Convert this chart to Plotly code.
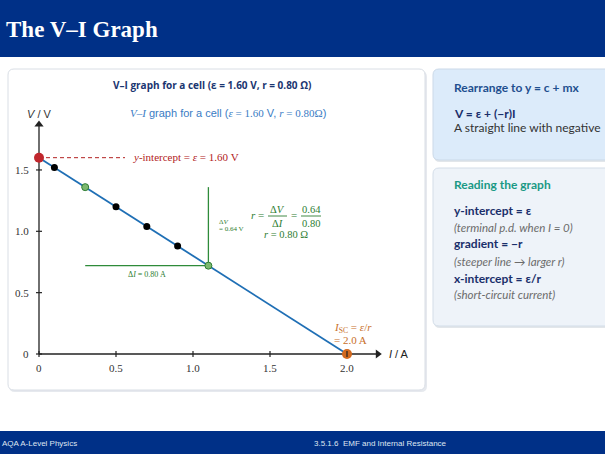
import plotly.graph_objects as go

# ---------------- data ----------------
emf = 1.60
r_int = 0.80
line_I = [0.0, 2.0]
line_V = [1.60, 0.0]
black_I = [0.1, 0.5, 0.7, 0.9]
black_V = [1.52, 1.20, 1.04, 0.88]
green_I = [0.3, 1.1]
green_V = [1.36, 0.72]
yint_I = [0.0]
yint_V = [1.60]
xint_I = [2.0]
xint_V = [0.0]
x_ticks = [0, 0.5, 1.0, 1.5, 2.0]
x_tick_labels = ["0", "0.5", "1.0", "1.5", "2.0"]
y_ticks = [0, 0.5, 1.0, 1.5]
y_tick_labels = ["0", "0.5", "1.0", "1.5"]
x_axis_end = 2.2
y_axis_end = 1.87

W, H = 605, 454
X0PX, XSCALE = 39.0, 154.0      # pixel of I=0, pixels per A
Y0PX, YSCALE = 354.0, 122.7     # pixel of V=0, pixels per V


def px(x):
    return x / W


def py(y):
    return 1 - y / H


def dx(p):
    return p / XSCALE


def dy(p):
    return p / YSCALE


fig = go.Figure()

# axes lines with arrow heads (markers)
fig.add_trace(go.Scatter(x=[0, x_axis_end], y=[0, 0], mode="lines",
                         line=dict(color="#222", width=1.3), hoverinfo="skip", showlegend=False))
fig.add_trace(go.Scatter(x=[0, 0], y=[0, y_axis_end], mode="lines",
                         line=dict(color="#222", width=1.3), hoverinfo="skip", showlegend=False))
fig.add_trace(go.Scatter(x=[x_axis_end], y=[0], mode="markers",
                         marker=dict(symbol="triangle-right", size=8, color="#222"),
                         hoverinfo="skip", showlegend=False, cliponaxis=False))
fig.add_trace(go.Scatter(x=[0], y=[y_axis_end], mode="markers",
                         marker=dict(symbol="triangle-up", size=8, color="#222"),
                         hoverinfo="skip", showlegend=False, cliponaxis=False))

# main line
fig.add_trace(go.Scatter(x=line_I, y=line_V, mode="lines",
                         line=dict(color="#1f6fb5", width=1.8), hoverinfo="skip", showlegend=False))
fig.add_trace(go.Scatter(x=black_I, y=black_V, mode="markers",
                         marker=dict(color="black", size=7), showlegend=False, cliponaxis=False))
fig.add_trace(go.Scatter(x=green_I, y=green_V, mode="markers",
                         marker=dict(color="#7cb870", size=7, line=dict(color="#2e7d32", width=1)),
                         showlegend=False, cliponaxis=False))
fig.add_trace(go.Scatter(x=yint_I, y=yint_V, mode="markers",
                         marker=dict(color="#c0272d", size=10), showlegend=False, cliponaxis=False))
fig.add_trace(go.Scatter(x=xint_I, y=xint_V, mode="markers",
                         marker=dict(color="#d2691e", size=10), showlegend=False, cliponaxis=False))

shapes = []
ann = []

# ---- slide backgrounds ----
shapes.append(dict(type="rect", xref="paper", yref="paper", x0=0, x1=1, y0=py(57), y1=1,
                   fillcolor="#003087", line=dict(width=0), layer="below"))
shapes.append(dict(type="rect", xref="paper", yref="paper", x0=0, x1=1, y0=0, y1=py(431),
                   fillcolor="#003087", line=dict(width=0), layer="below"))


def rrect(x0, y0, x1, y1, r=6):
    pts = (f"M {px(x0 + r)},{py(y0)} L {px(x1 - r)},{py(y0)} "
           f"Q {px(x1)},{py(y0)} {px(x1)},{py(y0 + r)} L {px(x1)},{py(y1 - r)} "
           f"Q {px(x1)},{py(y1)} {px(x1 - r)},{py(y1)} L {px(x0 + r)},{py(y1)} "
           f"Q {px(x0)},{py(y1)} {px(x0)},{py(y1 - r)} L {px(x0)},{py(y0 + r)} "
           f"Q {px(x0)},{py(y0)} {px(x0 + r)},{py(y0)} Z")
    return pts


shapes.append(dict(type="path", xref="paper", yref="paper", path=rrect(9, 71, 427, 392),
                   fillcolor="#e6e9ee", line=dict(width=0), layer="below"))
shapes.append(dict(type="path", xref="paper", yref="paper", path=rrect(8, 69, 425, 390),
                   fillcolor="white", line=dict(color="#d9dee5", width=1), layer="below"))
shapes.append(dict(type="path", xref="paper", yref="paper", path=rrect(434, 71, 614, 162),
                   fillcolor="#e2e6ea", line=dict(width=0), layer="below"))
shapes.append(dict(type="path", xref="paper", yref="paper", path=rrect(433, 69, 612, 160),
                   fillcolor="#dcebfa", line=dict(color="#cbd9e8", width=1), layer="below"))
shapes.append(dict(type="path", xref="paper", yref="paper", path=rrect(434, 170, 614, 328),
                   fillcolor="#e2e6ea", line=dict(width=0), layer="below"))
shapes.append(dict(type="path", xref="paper", yref="paper", path=rrect(433, 168, 612, 326),
                   fillcolor="#eef3f9", line=dict(color="#d3dde8", width=1), layer="below"))

# ---- ticks ----
for t, lab in zip(x_ticks, x_tick_labels):
    shapes.append(dict(type="line", xref="x", yref="y", x0=t, x1=t, y0=-dy(3), y1=dy(3),
                       line=dict(color="#222", width=1.2)))
    ann.append(dict(x=t, y=0, xref="x", yref="y", text=lab, showarrow=False, yshift=-14,
                    xanchor="center", yanchor="middle",
                    font=dict(family="Liberation Serif", size=11, color="#333")))
for t, lab in zip(y_ticks, y_tick_labels):
    shapes.append(dict(type="line", xref="x", yref="y", x0=-dx(3), x1=dx(3), y0=t, y1=t,
                       line=dict(color="#222", width=1.2)))
    ann.append(dict(x=0, y=t, xref="x", yref="y", text=lab, showarrow=False, xanchor="right",
                    yanchor="middle", xshift=-8,
                    font=dict(family="Liberation Serif", size=11, color="#333")))


def dtext(xp, yp, text, size=10, anchor="center", fam="Liberation Serif", color="#2e7d32"):
    ann.append(dict(x=dx(xp - X0PX), y=dy(Y0PX - yp), xref="x", yref="y", xanchor=anchor,
                    yanchor="middle", text=text, showarrow=False,
                    font=dict(family=fam, size=size, color=color)))


dtext(387, 354, "<i>I</i> / A", size=11, anchor="left", fam="Liberation Sans", color="#222")
dtext(39, 114, "<i>V</i> / V", size=11, anchor="center", fam="Liberation Sans", color="#333")

# y-intercept dashed line + label
shapes.append(dict(type="line", xref="x", yref="y", x0=0, x1=dx(125 - X0PX), y0=emf, y1=emf,
                   line=dict(color="#b22222", width=1, dash="4px,3px"), layer="below"))
dtext(131, 157, "<i>y</i>-intercept = <i>ε</i> = 1.60 V", size=11, anchor="left", color="#b22222")

# gradient triangle
shapes.append(dict(type="line", xref="x", yref="y", x0=green_I[1], x1=green_I[1],
                   y0=green_V[1], y1=green_V[0], line=dict(color="#2e8b3a", width=1.3), layer="below"))
shapes.append(dict(type="line", xref="x", yref="y", x0=green_I[0], x1=green_I[1],
                   y0=green_V[1], y1=green_V[1], line=dict(color="#2e8b3a", width=1.3), layer="below"))

G = "#2e7d32"
dtext(147, 274, "Δ<i>I</i> = 0.80 A", size=8)
dtext(217, 222, "Δ<i>V</i>", size=7, anchor="left")
dtext(217, 229, "= 0.64 V", size=7, anchor="left")
dtext(257, 215, "<i>r</i> =", size=11)
dtext(277, 209, "Δ<i>V</i>", size=10.5)
dtext(277, 223, "Δ<i>I</i>", size=10.5)
shapes.append(dict(type="line", xref="x", yref="y", x0=dx(268 - X0PX), x1=dx(287 - X0PX),
                   y0=dy(Y0PX - 216), y1=dy(Y0PX - 216), line=dict(color=G, width=0.9)))
dtext(294, 215, "=", size=11)
dtext(311, 209, "0.64", size=10.5)
dtext(311, 223, "0.80", size=10.5)
shapes.append(dict(type="line", xref="x", yref="y", x0=dx(301 - X0PX), x1=dx(321 - X0PX),
                   y0=dy(Y0PX - 216), y1=dy(Y0PX - 216), line=dict(color=G, width=0.9)))
dtext(286, 234, "<i>r</i> = 0.80 Ω", size=10.5)

OR = "#c8702a"
dtext(332, 328, "<i>I</i><sub>SC</sub> = <i>ε</i>/<i>r</i>", size=11, anchor="left", color=OR)
dtext(332, 340, "= 2.0 A", size=11, anchor="left", color=OR)


def ptext(xp, yp, text, size=11, color="#1a2f6b", bold=False, italic=False,
          fam="Lato", anchor="left"):
    t = text
    if bold:
        t = "<b>" + t + "</b>"
    if italic:
        t = "<i>" + t + "</i>"
    ann.append(dict(x=px(xp), y=py(yp), xref="paper", yref="paper", xanchor=anchor,
                    yanchor="middle", showarrow=False,
                    text=t, font=dict(family=fam, size=size, color=color)))


# chart titles
ptext(212, 85, "V–I graph for a cell (ε = 1.60 V, r = 0.80 Ω)", size=10, color="#1a3570",
      bold=True, fam="Open Sans", anchor="center")
ptext(228, 113, ("<span style='font-family:Liberation Serif'><i>V</i>–<i>I</i></span> graph for a cell "
                 "(<span style='font-family:Liberation Serif'><i>ε</i> = 1.60</span> V, "
                 "<span style='font-family:Liberation Serif'><i>r</i> = 0.80Ω</span>)"),
      size=11, color="#3a7cc4", fam="Liberation Sans", anchor="center")

# header / footer
ptext(4, 30, "The V–I Graph", size=23, color="white", bold=True, fam="Liberation Serif")
ptext(0, 443, "AQA A-Level Physics", size=8, color="#dfe6f2", fam="Liberation Sans")
ptext(380, 443, "3.5.1.6  EMF and Internal Resistance", size=8, color="#dfe6f2",
      fam="Liberation Sans", anchor="center")

# right cards
ptext(452, 88, "Rearrange to y = c + mx", size=12, color="#1f4f8f", bold=True)
ptext(452, 113, "V = ε + (−r)I", size=12, color="#1a2f6b", bold=True)
ptext(452, 128, "A straight line with negative", size=12, color="#333333")

ptext(452, 185, "Reading the graph", size=12, color="#1a9985", bold=True)
ptext(452, 210, "y-intercept = ε", size=12, color="#1a2f6b", bold=True)
ptext(452, 227, "(terminal p.d. when I = 0)", size=11.5, color="#6b6b6b", italic=True)
ptext(452, 244, "gradient = −r", size=12, color="#1a2f6b", bold=True)
ptext(452, 261, "(steeper line → larger r)", size=11.5, color="#6b6b6b", italic=True)
ptext(452, 278, "x-intercept = ε/r", size=12, color="#1a2f6b", bold=True)
ptext(452, 294, "(short-circuit current)", size=11.5, color="#6b6b6b", italic=True)

fig.update_layout(
    width=W, height=H, margin=dict(l=0, r=0, t=0, b=0),
    paper_bgcolor="white", plot_bgcolor="rgba(0,0,0,0)",
    xaxis=dict(visible=False, range=[-X0PX / XSCALE, (W - X0PX) / XSCALE], domain=[0, 1], fixedrange=True),
    yaxis=dict(visible=False, range=[(Y0PX - H) / YSCALE, Y0PX / YSCALE], domain=[0, 1], fixedrange=True),
    shapes=shapes, annotations=ann, showlegend=False,
)

fig.write_html("out.html", config={"displayModeBar": False},
               post_script="document.body.style.margin='0';document.body.style.overflow='hidden';")
